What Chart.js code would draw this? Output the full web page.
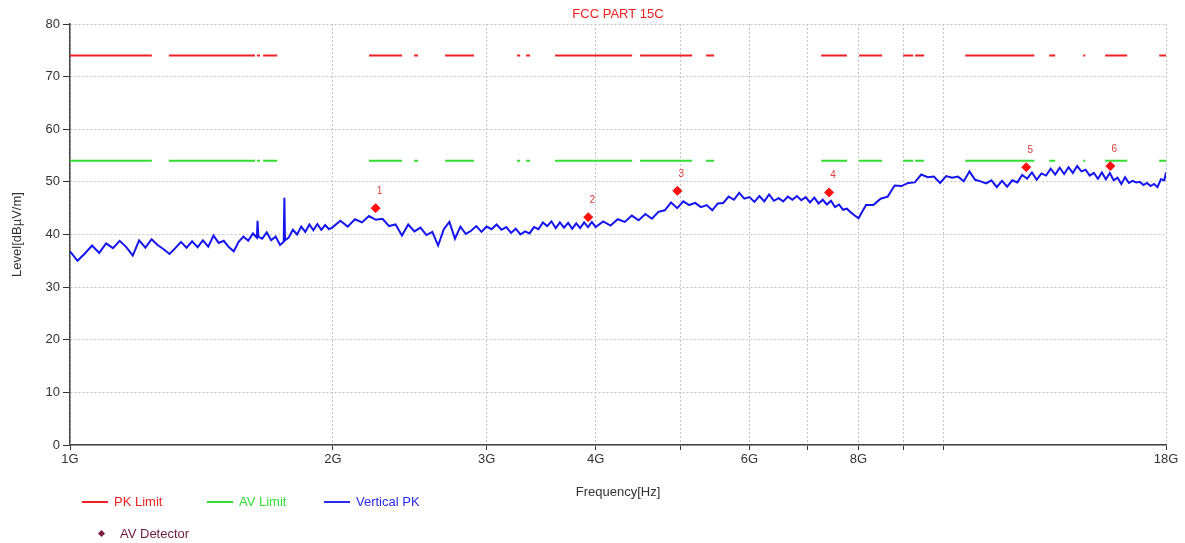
<!DOCTYPE html>
<html>
<head>
<meta charset="utf-8">
<script src="https://cdn.jsdelivr.net/npm/chart.js@4.4.1/dist/chart.umd.min.js"></script>
<style>
  html, body { margin: 0; padding: 0; background: #fff; }
  #wrap { position: relative; width: 1185px; height: 543px; font-family: Arial, "Liberation Sans", sans-serif; }
  #chart { position: absolute; left: 0; top: 0; }
  .leg { position: absolute; font-size: 13px; line-height: 16px; white-space: nowrap; padding-left: 32px; }
  .leg i { position: absolute; left: 0; top: 7px; width: 26px; height: 2px; }
  .leg b { position: absolute; left: 0; top: 5px; width: 5px; height: 5px; transform: rotate(45deg); }
</style>
</head>
<body>
<div id="wrap">
  <canvas id="chart" width="1185" height="543"></canvas>
  <div class="leg" style="left:82px; top:494px; color:#ee2222"><i style="background:#ee2222"></i>PK Limit</div>
  <div class="leg" style="left:207px; top:494px; color:#33dd33"><i style="background:#33dd33"></i>AV Limit</div>
  <div class="leg" style="left:324px; top:494px; color:#2a2aee"><i style="background:#2a2aee"></i>Vertical PK</div>
  <div class="leg" style="left:99px; top:526px; padding-left:21px; color:#6e1a3c"><b style="background:#7a1a3e"></b>AV Detector</div>
</div>
<script>
// Titles
const chartTitle = 'FCC PART 15C';
const xTitle = 'Frequency[Hz]';
const yTitle = 'Level[dB\u00B5V/m]';

// Limits (dBuV/m) and the frequency ranges (GHz) where they are drawn
const pkLimit = 74;
const avLimit = 54;
const limitSegments = [
    [1.00, 1.241], [1.298, 1.629], [1.637, 1.650], [1.664, 1.727],
    [2.200, 2.401], [2.478, 2.504], [2.689, 2.902], [3.251, 3.278], [3.330, 3.365],
    [3.594, 4.404], [4.497, 5.159], [5.352, 5.467],
    [7.250, 7.762], [8.013, 8.515], [9.000, 9.240], [9.289, 9.511],
    [10.60, 12.72], [13.23, 13.44], [14.47, 14.55], [15.33, 16.25], [17.68, 18.0]
];

// Vertical PK sweep, GHz / dBuV/m
const band1Freq = [1.00, 1.02, 1.04, 1.06, 1.08, 1.10, 1.12, 1.14, 1.16, 1.18,
    1.20, 1.22, 1.24, 1.26, 1.28, 1.30, 1.32, 1.34, 1.36, 1.38,
    1.40, 1.42, 1.44, 1.46, 1.48, 1.50, 1.52, 1.54, 1.56, 1.58,
    1.60, 1.62, 1.637, 1.64, 1.643, 1.66, 1.68, 1.70, 1.72, 1.74, 1.757, 1.76, 1.763, 1.78,
    1.80, 1.82, 1.84, 1.86, 1.88, 1.90, 1.92, 1.94, 1.96, 1.98];
const band1Level = [36.8, 35.0, 36.4, 37.9, 36.5, 38.3, 37.4, 38.8, 37.6, 36.0,
    38.9, 37.5, 39.1, 38.0, 37.2, 36.3, 37.4, 38.6, 37.5, 38.7,
    37.6, 38.9, 37.7, 39.8, 38.4, 38.8, 37.6, 36.8, 38.6, 39.6,
    38.8, 40.2, 39.4, 42.6, 39.6, 39.2, 40.4, 38.9, 39.6, 38.0, 38.6, 47.0, 38.9, 39.4,
    40.9, 40.0, 41.5, 40.5, 41.9, 40.8, 42.0, 40.9, 41.8, 41.0];

const band2Freq = [2.00, 2.04, 2.08, 2.12, 2.16, 2.20, 2.24, 2.28, 2.32, 2.36,
    2.40, 2.44, 2.48, 2.52, 2.56, 2.60, 2.64, 2.68, 2.72, 2.76,
    2.80, 2.84, 2.88, 2.92, 2.96, 3.00, 3.04, 3.08, 3.12, 3.16,
    3.20, 3.24, 3.28, 3.32, 3.36, 3.40, 3.44, 3.48, 3.52, 3.56,
    3.60, 3.64, 3.68, 3.72, 3.76, 3.80, 3.84, 3.88, 3.92, 3.96];
const band2Level = [41.4, 42.6, 41.5, 42.9, 42.3, 43.5, 42.8, 43.0, 41.6, 41.9,
    39.8, 41.9, 40.6, 41.3, 39.9, 40.5, 37.9, 41.0, 42.4, 39.2,
    41.5, 40.1, 40.7, 41.6, 40.5, 41.5, 41.0, 41.9, 40.9, 41.4,
    40.3, 41.1, 40.0, 40.6, 40.2, 41.4, 41.0, 42.3, 41.6, 42.5,
    41.2, 42.3, 41.3, 42.2, 41.1, 42.1, 41.2, 42.3, 41.4, 42.4];

const band3Freq = [4.00, 4.08, 4.16, 4.24, 4.32, 4.40, 4.48, 4.56, 4.64, 4.72,
    4.80, 4.88, 4.96, 5.04, 5.12, 5.20, 5.28, 5.36, 5.44, 5.52,
    5.60, 5.68, 5.76, 5.84, 5.92, 6.00, 6.08, 6.16, 6.24, 6.32,
    6.40, 6.48, 6.56, 6.64, 6.72, 6.80, 6.88, 6.96, 7.04, 7.12,
    7.20, 7.28, 7.36, 7.44, 7.52, 7.60, 7.68, 7.76, 7.84, 7.92];
const band3Level = [41.4, 42.5, 41.7, 42.9, 42.4, 43.6, 42.7, 43.9, 43.0, 44.3,
    44.6, 46.1, 45.0, 46.3, 45.6, 46.0, 45.2, 45.6, 44.6, 45.9,
    46.0, 47.2, 46.6, 47.9, 46.8, 47.1, 46.2, 47.3, 46.3, 47.6,
    46.4, 46.9, 46.3, 47.2, 46.6, 47.3, 46.5, 47.1, 46.1, 47.0,
    45.9, 46.6, 45.7, 46.4, 45.2, 45.7, 44.7, 44.9, 44.2, 43.6];

const band4Freq = [8.00, 8.16, 8.32, 8.48, 8.64, 8.80, 8.96, 9.12, 9.28, 9.44,
    9.60, 9.76, 9.92, 10.08, 10.24, 10.40, 10.56, 10.72, 10.88, 11.04,
    11.20, 11.36, 11.52, 11.68, 11.84, 12.00, 12.16, 12.32, 12.48, 12.64,
    12.80, 12.96, 13.12, 13.28, 13.44, 13.60, 13.76, 13.92, 14.08, 14.24,
    14.40, 14.56, 14.72, 14.88, 15.04, 15.20, 15.36, 15.52, 15.68, 15.84,
    16.00, 16.16, 16.32, 16.48, 16.64, 16.80, 16.96, 17.12, 17.28, 17.44,
    17.60, 17.76, 17.92, 18.00];
const band4Level = [43.1, 45.6, 45.6, 46.8, 47.2, 49.3, 49.2, 49.8, 49.9, 51.4,
    50.9, 51.0, 49.8, 51.1, 50.8, 51.0, 50.1, 52.0, 50.4, 50.1,
    49.7, 50.3, 49.0, 50.2, 49.1, 50.3, 49.9, 51.3, 50.6, 51.8,
    50.4, 51.6, 51.2, 52.5, 51.4, 52.7, 51.5, 52.8, 51.7, 53.0,
    52.0, 52.3, 51.2, 51.7, 50.6, 51.8, 50.5, 51.7, 50.3, 50.8,
    49.6, 50.9, 49.8, 50.2, 49.9, 50.0, 49.4, 49.8, 49.2, 49.6,
    49.0, 50.5, 50.3, 51.8];

// AV detector final readings
const markerFreq = [2.239, 3.922, 4.962, 7.403, 12.45, 15.54];
const markerLevel = [45.0, 43.3, 48.3, 48.0, 52.8, 53.0];
const markerLabels = ['1', '2', '3', '4', '5', '6'];

// Axis ticks
const xGridValues = [1, 2, 3, 4, 5, 6, 7, 8, 9, 10, 18];
const xTickLabels = { 1: '1G', 2: '2G', 3: '3G', 4: '4G', 6: '6G', 8: '8G', 18: '18G' };

const sweepFreq = band1Freq.concat(band2Freq, band3Freq, band4Freq);
const sweepLevel = band1Level.concat(band2Level, band3Level, band4Level);

function limitData(level) {
    const pts = [];
    limitSegments.forEach(s => {
        pts.push({ x: s[0], y: level }, { x: s[1], y: level }, { x: s[1], y: null });
    });
    return pts;
}

const textPlugin = {
    id: 'texts',
    afterDraw(chart) {
        const ctx = chart.ctx;
        const a = chart.chartArea;
        ctx.save();
        ctx.textAlign = 'center';
        ctx.textBaseline = 'middle';
        ctx.font = '13px Arial, "Liberation Sans", sans-serif';
        ctx.fillStyle = '#ee2222';
        ctx.fillText(chartTitle, (a.left + a.right) / 2, 14);
        ctx.fillStyle = '#333';
        ctx.fillText(xTitle, (a.left + a.right) / 2, 492);
        ctx.translate(17, (a.top + a.bottom) / 2);
        ctx.rotate(-Math.PI / 2);
        ctx.fillText(yTitle, 0, 0);
        ctx.restore();

        // marker numbers
        const meta = chart.getDatasetMeta(3);
        ctx.save();
        ctx.font = '10px Arial, "Liberation Sans", sans-serif';
        ctx.fillStyle = '#e03a3a';
        ctx.textAlign = 'center';
        ctx.textBaseline = 'middle';
        meta.data.forEach((pt, i) => ctx.fillText(markerLabels[i], pt.x + 4, pt.y - 17));
        ctx.restore();
    }
};

new Chart(document.getElementById('chart'), {
    type: 'line',
    data: {
        datasets: [{
            label: 'PK Limit',
            data: limitData(pkLimit),
            borderColor: '#ee2222',
            borderWidth: 2,
            pointRadius: 0,
            spanGaps: false,
            order: 1
        }, {
            label: 'AV Limit',
            data: limitData(avLimit),
            borderColor: '#33dd33',
            borderWidth: 2,
            pointRadius: 0,
            spanGaps: false,
            order: 1
        }, {
            label: 'Vertical PK',
            data: sweepFreq.map((f, i) => ({ x: f, y: sweepLevel[i] })),
            borderColor: '#1414ee',
            borderWidth: 2,
            pointRadius: 0,
            order: 2
        }, {
            type: 'scatter',
            label: 'AV Detector',
            data: markerFreq.map((f, i) => ({ x: f, y: markerLevel[i] })),
            pointStyle: 'rectRot',
            pointRadius: 4.5,
            backgroundColor: '#ff1010',
            borderColor: '#ff1010',
            showLine: false,
            order: 0
        }]
    },
    options: {
        responsive: false,
        animation: false,
        layout: { padding: { left: 0, right: 19, top: 24, bottom: 68 } },
        plugins: {
            legend: { display: false },
            tooltip: { enabled: false }
        },
        scales: {
            x: {
                type: 'logarithmic',
                min: 1,
                max: 18,
                afterBuildTicks: scale => { scale.ticks = xGridValues.map(v => ({ value: v })); },
                afterFit: scale => { scale.height = 30; },
                ticks: {
                    autoSkip: false,
                    maxRotation: 0,
                    padding: 2,
                    color: '#333',
                    font: { size: 13, family: 'Arial, "Liberation Sans", sans-serif' },
                    callback: v => xTickLabels[v] || ''
                },
                grid: { color: '#c4c4c4', tickColor: '#333', tickLength: 5, tickBorderDash: [] },
                border: { color: '#444', width: 1.5, dash: [2, 2] }
            },
            y: {
                min: 0,
                max: 80,
                afterFit: scale => { scale.width = 70; },
                ticks: {
                    stepSize: 10,
                    padding: 3,
                    color: '#333',
                    font: { size: 13, family: 'Arial, "Liberation Sans", sans-serif' }
                },
                grid: { color: '#c4c4c4', tickColor: '#333', tickLength: 7, tickBorderDash: [] },
                border: { color: '#444', width: 1.5, dash: [2, 2] }
            }
        }
    },
    plugins: [textPlugin]
});
</script>
</body>
</html>
